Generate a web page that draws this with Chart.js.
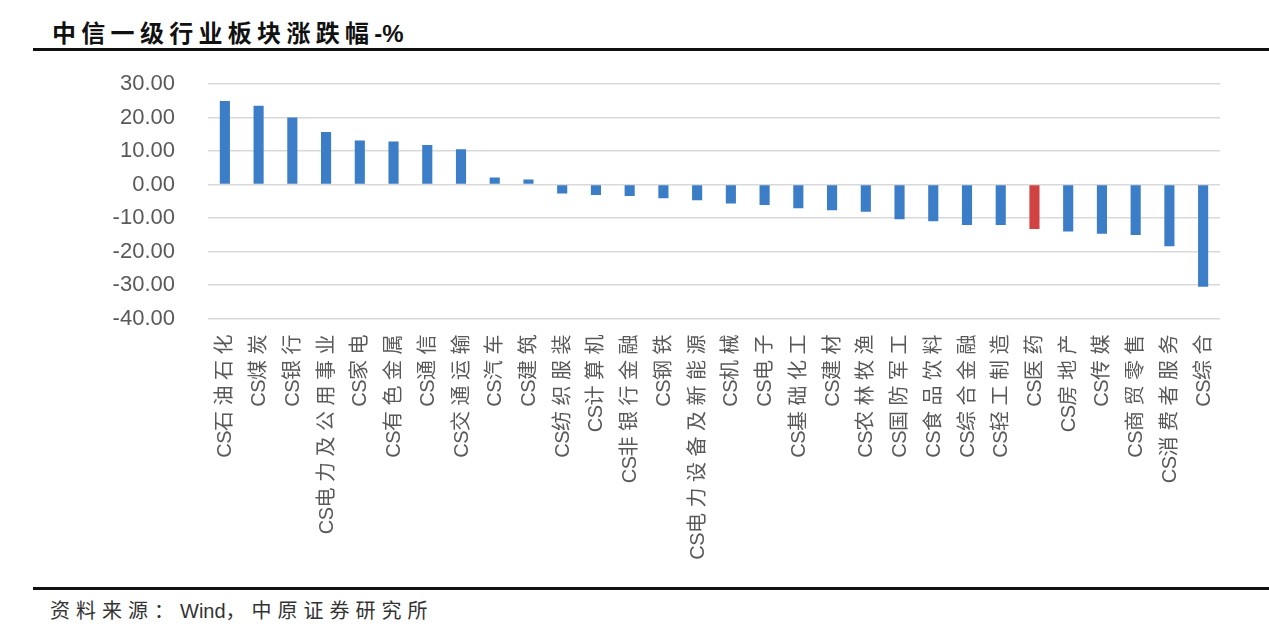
<!DOCTYPE html>
<html>
<head>
<meta charset="utf-8">
<script src="https://cdn.jsdelivr.net/npm/chart.js@4/dist/chart.umd.min.js"></script>
<style>
  html, body { margin:0; padding:0; background:#fff; width:1269px; height:631px; overflow:hidden; }
  .title { position:absolute; left:52px; top:14px; font:bold 24px "Liberation Sans","Noto Sans CJK SC",sans-serif; color:#111; white-space:nowrap; }
  .title .cjk { letter-spacing:5.3px; }
  .rule { position:absolute; left:33px; right:0; height:3px; background:#111; }
  .chart-wrap { position:absolute; left:0; top:55px; width:1269px; height:530px; }
  .source { position:absolute; left:50px; top:595px; font:20px "Liberation Sans","Noto Sans CJK SC",sans-serif; color:#333; white-space:nowrap; }
  .source .cjk { letter-spacing:6px; }
</style>
</head>
<body>
<div class="title"><span class="cjk">中信一级行业板块涨跌幅</span>-%</div>
<div class="rule" style="top:48px"></div>
<div class="chart-wrap"><canvas id="c"></canvas></div>
<div class="rule" style="top:587px"></div>
<div class="source"><span class="cjk">资料来源：</span>Wind<span class="cjk">，中原证券研究所</span></div>

<script>
// ── data ────────────────────────────────────────────
const categories = ['CS石油石化','CS煤炭','CS银行','CS电力及公用事业','CS家电','CS有色金属','CS通信','CS交通运输','CS汽车','CS建筑',
  'CS纺织服装','CS计算机','CS非银行金融','CS钢铁','CS电力设备及新能源','CS机械','CS电子','CS基础化工','CS建材','CS农林牧渔',
  'CS国防军工','CS食品饮料','CS综合金融','CS轻工制造','CS医药','CS房地产','CS传媒','CS商贸零售','CS消费者服务','CS综合'];
const changes = [24.9, 23.5, 20.0, 15.7, 13.1, 12.8, 11.8, 10.5, 2.1, 1.5,
  -2.7, -3.1, -3.4, -4.1, -4.7, -5.7, -6.1, -7.1, -7.7, -8.1,
  -10.4, -11.0, -12.1, -12.1, -13.3, -14.0, -14.7, -15.1, -18.4, -30.5];
const yTicks = [30, 20, 10, 0, -10, -20, -30, -40];
const highlight = 'CS医药';

const BLUE = '#3b7dc6', RED = '#d14343', GREY = '#595959';
const LABEL_FONT = '20px "Liberation Sans", "Noto Sans CJK SC", sans-serif';

// vertical category labels, drawn at the x scale's tick positions
const verticalLabels = {
  id: 'verticalLabels',
  afterDraw(chart) {
    const { ctx, scales: { x } } = chart;
    const top = x.top + 16;
    const pitch = 25.5;
    ctx.save();
    ctx.font = LABEL_FONT;
    ctx.fillStyle = GREY;
    ctx.textBaseline = 'middle';
    ctx.textAlign = 'left';
    categories.forEach((lab, i) => {
      const chars = [...lab];
      const adv = chars.map((ch, k) => {
        const cjk = ch.charCodeAt(0) > 0x2e80;
        if (!cjk) return ctx.measureText(ch).width - 0.5;
        return k === chars.length - 1 ? 20 : pitch;
      });
      const total = adv.reduce((a, b) => a + b, 0);
      ctx.save();
      ctx.translate(x.getPixelForTick(i), top);
      ctx.rotate(-Math.PI / 2);
      let pos = -total;
      chars.forEach((ch, k) => { ctx.fillText(ch, pos, 1); pos += adv[k]; });
      ctx.restore();
    });
    ctx.restore();
  }
};

new Chart(document.getElementById('c'), {
  type: 'bar',
  data: {
    labels: categories,
    datasets: [{
      data: changes,
      backgroundColor: categories.map(c => c === highlight ? RED : BLUE),
      barPercentage: 0.3,
      categoryPercentage: 1
    }]
  },
  options: {
    responsive: true, maintainAspectRatio: false, animation: false,
    layout: { padding: { top: 29, right: 49, left: 0, bottom: 0 } },
    plugins: { legend: { display: false }, tooltip: { enabled: false } },
    scales: {
      x: {
        ticks: { display: false },
        grid: { display: false },
        border: { display: false },
        afterFit: s => { s.height = 266.5; }
      },
      y: {
        min: -40, max: 30,
        afterBuildTicks: s => { s.ticks = yTicks.map(v => ({ value: v })); },
        // tick padding is only for the horizontal gap, not the top/bottom room
        afterFit: s => { s.width = 208; s.paddingTop = 12; s.paddingBottom = 12; },
        ticks: {
          callback: v => v.toFixed(2),
          color: GREY,
          padding: 33,
          font: { family: '"Liberation Sans", sans-serif', size: 22 }
        },
        grid: { color: '#d9d9d9', lineWidth: 1.5, drawTicks: false },
        border: { display: false }
      }
    }
  },
  plugins: [verticalLabels]
});
</script>
</body>
</html>
